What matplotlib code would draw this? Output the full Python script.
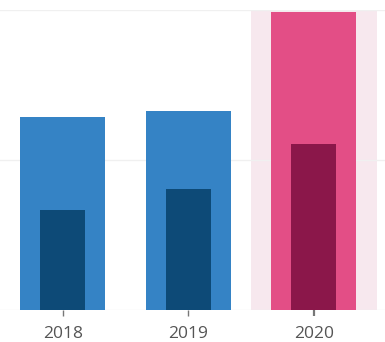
import matplotlib.pyplot as plt
import numpy as np

years = ["2018", "2019", "2020"]
total = [129, 133, 199]
part = [67, 81, 111]
highlight = "2020"

plt.rcParams['font.family'] = ['Open Sans', 'DejaVu Sans']

fig = plt.figure(figsize=(3.85, 3.42), dpi=100)
ax = fig.add_axes([0, 32 / 342, 1, 300 / 342])

x = np.arange(len(years))
outer_c = ["#E34E86" if y == highlight else "#3583C5" for y in years]
inner_c = ["#8B174A" if y == highlight else "#0D4A77" for y in years]

for i, y in enumerate(years):
    if y == highlight:
        ax.axvspan(i - 0.5, i + 0.5, color="#F7E8EE", zorder=0, lw=0)

ax.bar(x, total, width=0.68, color=outer_c, zorder=2)
ax.bar(x, part, width=0.36, color=inner_c, zorder=3)

ax.set_xlim(-0.5, -0.5 + 385 / 125.5)
ax.set_ylim(0, 200)
ax.set_yticks([0, 100, 200])
ax.yaxis.grid(True, color="#F0F0F0", linewidth=1)
ax.set_axisbelow(True)
ax.tick_params(axis="y", length=0, labelleft=False)
ax.set_xticks(x)
ax.set_xticklabels(years, fontsize=12.5, color="#555555")
ax.tick_params(axis="x", length=4, width=1, color="#777777", pad=7.5)
for i, y in enumerate(years):
    if y == highlight:
        t = ax.xaxis.get_major_ticks()[i]
        t.tick1line.set_color("#333333")
        t.tick1line.set_markeredgewidth(1.6)
for s in ax.spines.values():
    s.set_visible(False)

fig.savefig("out.png", dpi=100)
